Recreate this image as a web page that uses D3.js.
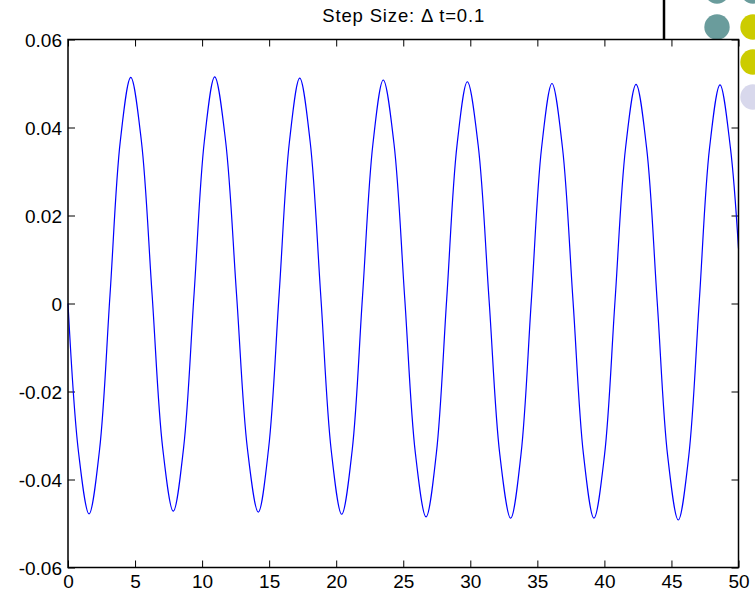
<!DOCTYPE html>
<html>
<head>
<meta charset="utf-8">
<script src="https://cdn.jsdelivr.net/npm/d3@7"></script>
<style>
  body { margin: 0; background: #fff; }
  text { font-family: "Liberation Sans", Arial, Helvetica, sans-serif; }
</style>
</head>
<body>
<div id="chart"></div>
<script>
// time samples (extrema, mid-levels and crossings)
var tVals = [0, 0.785, 1.57, 2.35, 3.13, 3.90, 4.68, 5.47, 6.27, 7.06, 7.85,
    8.62, 9.40, 10.17, 10.94, 11.75, 12.57, 13.38, 14.19, 14.96, 15.74, 16.51, 17.28,
    18.06, 18.85, 19.63, 20.41, 21.19, 21.96, 22.74, 23.51, 24.31, 25.11, 25.90, 26.70,
    27.47, 28.24, 29.01, 29.78, 30.59, 31.40, 32.20, 33.01, 33.78, 34.55, 35.32, 36.09,
    36.87, 37.66, 38.44, 39.22, 40.01, 40.79, 41.58, 42.36, 43.15, 43.94, 44.72, 45.51,
    46.29, 47.07, 47.84, 48.62, 49.40, 50];
var yVals = [0, -0.0338, -0.0478, -0.0333, 0.0018, 0.0369, 0.0514, 0.0370, 0.0021, -0.0328, -0.0472,
    -0.0328, 0.0021, 0.0370, 0.0515, 0.0370, 0.0020, -0.0330, -0.0474, -0.0329, 0.0019, 0.0367, 0.0512,
    0.0367, 0.0017, -0.0334, -0.0479, -0.0334, 0.0015, 0.0363, 0.0508, 0.0363, 0.0012, -0.0339, -0.0485,
    -0.0340, 0.0010, 0.0360, 0.0504, 0.0359, 0.0008, -0.0343, -0.0488, -0.0343, 0.0006, 0.0355, 0.0500,
    0.0355, 0.0006, -0.0343, -0.0488, -0.0344, 0.0005, 0.0354, 0.0498, 0.0353, 0.0003, -0.0347, -0.0492,
    -0.0347, 0.0003, 0.0353, 0.0497, 0.0353, 0.0125];

var xTicks = [0, 5, 10, 15, 20, 25, 30, 35, 40, 45, 50];
var yTicks = [0.06, 0.04, 0.02, 0, -0.02, -0.04, -0.06];
var yTickLabels = ["0.06", "0.04", "0.02", "0", "-0.02", "-0.04", "-0.06"];
var titleText = "Step Size: \u0394 t=0.1";

var W = 755, H = 595;
var margin = {top: 39.5, right: 16.5, bottom: 27.5, left: 68};
var width = W - margin.left - margin.right;
var height = H - margin.top - margin.bottom;

var svg = d3.select("#chart").append("svg")
    .attr("width", W)
    .attr("height", H);

// slide background decoration in the top right corner
var dots = [
    {cx: 717, cy: -9, c: "#6a9c9c"}, {cx: 753, cy: -9, c: "#6a9c9c"},
    {cx: 717, cy: 27, c: "#6a9c9c"}, {cx: 753, cy: 27, c: "#cccc00"},
    {cx: 753, cy: 62, c: "#cccc00"}, {cx: 753, cy: 97, c: "#d8d8ec"}
];
svg.selectAll(".dot")
    .data(dots)
    .enter().append("circle")
    .attr("class", "dot")
    .attr("cx", d => d.cx)
    .attr("cy", d => d.cy)
    .attr("r", 12.7)
    .attr("fill", d => d.c);

svg.append("line")
    .attr("x1", 664).attr("x2", 664)
    .attr("y1", 0).attr("y2", margin.top)
    .attr("stroke", "black")
    .attr("stroke-width", 2.5);

var g = svg.append("g")
    .attr("transform", "translate(" + margin.left + "," + margin.top + ")");

g.append("rect")
    .attr("width", width)
    .attr("height", height)
    .attr("fill", "white");

var x = d3.scaleLinear().domain([0, 50]).range([0, width]);
var y = d3.scaleLinear().domain([-0.06, 0.06]).range([height, 0]);

var xAxis = d3.axisBottom(x).tickValues(xTicks).tickSize(-7).tickPadding(7)
    .tickFormat(d3.format("d"));
var yAxis = d3.axisLeft(y).tickValues(yTicks).tickSize(-7).tickPadding(6)
    .tickFormat((d, i) => yTickLabels[i]);

g.append("g")
    .attr("class", "axis x-axis")
    .attr("transform", "translate(0," + height + ")")
    .call(xAxis);
g.append("g")
    .attr("class", "axis y-axis")
    .call(yAxis);
g.append("g")
    .attr("class", "axis")
    .call(d3.axisTop(x).tickValues(xTicks).tickSize(-7).tickFormat(""));
g.append("g")
    .attr("class", "axis")
    .attr("transform", "translate(" + width + ",0)")
    .call(d3.axisRight(y).tickValues(yTicks).tickSize(-7).tickFormat(""));

g.selectAll(".axis .domain").remove();
g.selectAll(".axis .tick line").attr("stroke", "black").attr("stroke-width", 1);
g.selectAll(".axis text")
    .style("font-size", "19px")
    .attr("fill", "black");
g.selectAll(".y-axis text").attr("dy", "0.35em");

var pts = tVals.map((t, i) => [t, yVals[i]]);
var line = d3.line()
    .x(d => x(d[0]))
    .y(d => y(d[1]))
    .curve(d3.curveCatmullRom.alpha(0.5));

g.append("path")
    .datum(pts)
    .attr("fill", "none")
    .attr("stroke", "#0000ff")
    .attr("stroke-width", 1.2)
    .attr("d", line);

g.append("rect")
    .attr("width", width)
    .attr("height", height)
    .attr("fill", "none")
    .attr("stroke", "black")
    .attr("stroke-width", 1.5);

svg.append("text")
    .attr("x", margin.left + width / 2)
    .attr("y", 22)
    .attr("text-anchor", "middle")
    .attr("textLength", 162)
    .attr("lengthAdjust", "spacing")
    .style("font-size", "18.5px")
    .text(titleText);
</script>
</body>
</html>
